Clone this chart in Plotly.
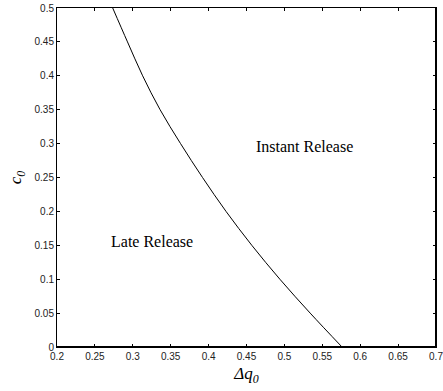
import plotly.graph_objects as go

# Boundary curve between "Late Release" and "Instant Release"
dq0 = [0.2735, 0.293, 0.313, 0.336, 0.363, 0.392, 0.423, 0.457, 0.494, 0.534, 0.576]
c0 = [0.50, 0.45, 0.40, 0.35, 0.30, 0.25, 0.20, 0.15, 0.10, 0.05, 0.00]

x_ticks = [0.2, 0.25, 0.3, 0.35, 0.4, 0.45, 0.5, 0.55, 0.6, 0.65, 0.7]
y_ticks = [0, 0.05, 0.1, 0.15, 0.2, 0.25, 0.3, 0.35, 0.4, 0.45, 0.5]

labels = ["Instant Release", "Late Release"]
label_x = [0.527, 0.325]
label_y = [0.295, 0.156]

fig = go.Figure()
fig.add_trace(go.Scatter(x=dq0, y=c0, mode="lines", line=dict(color="black", width=1),
                         line_shape="spline", showlegend=False, hoverinfo="skip"))

for t, lx, ly in zip(labels, label_x, label_y):
    fig.add_annotation(x=lx, y=ly, text=t, showarrow=False,
                       font=dict(family="Liberation Serif", size=16, color="black"))

tickfont = dict(family="Liberation Sans", size=10, color="#222")
fig.update_xaxes(range=[0.2, 0.7], tickvals=x_ticks, ticktext=[f"{v:g}" for v in x_ticks],
                 ticks="inside", ticklen=3, tickcolor="black", showline=True, linecolor="black",
                 linewidth=1, mirror="ticks", showgrid=False, zeroline=False, tickfont=tickfont,
                 automargin=False, ticklabeloverflow="allow",
                 title=dict(text="<i>Δq<sub>0</sub></i>", font=dict(family="Liberation Serif", size=17, color="black"),
                            standoff=6))
fig.update_yaxes(range=[0, 0.5], tickvals=y_ticks, ticktext=[f"{v:g}" for v in y_ticks],
                 ticks="inside", ticklen=3, tickcolor="black", showline=True, linecolor="black",
                 linewidth=1, mirror="ticks", showgrid=False, zeroline=False, tickfont=tickfont,
                 automargin=False, ticklabeloverflow="allow",
                 title=dict(text="<i>c<sub>0</sub></i>", font=dict(family="Liberation Serif", size=17, color="black"),
                            standoff=8))

# thicker bottom and right frame lines as in the reference
fig.add_shape(type="line", xref="paper", yref="paper", x0=0, x1=1, y0=0, y1=0,
              line=dict(color="black", width=2))
fig.add_shape(type="line", xref="paper", yref="paper", x0=1, x1=1, y0=0, y1=1,
              line=dict(color="black", width=2))

fig.update_layout(width=443, height=391, margin=dict(l=57, r=7, t=8, b=44),
                  plot_bgcolor="white", paper_bgcolor="white")

fig.write_html("out.html", config={"displayModeBar": False},
               post_script="document.body.style.margin='0';document.body.style.overflow='hidden';")
